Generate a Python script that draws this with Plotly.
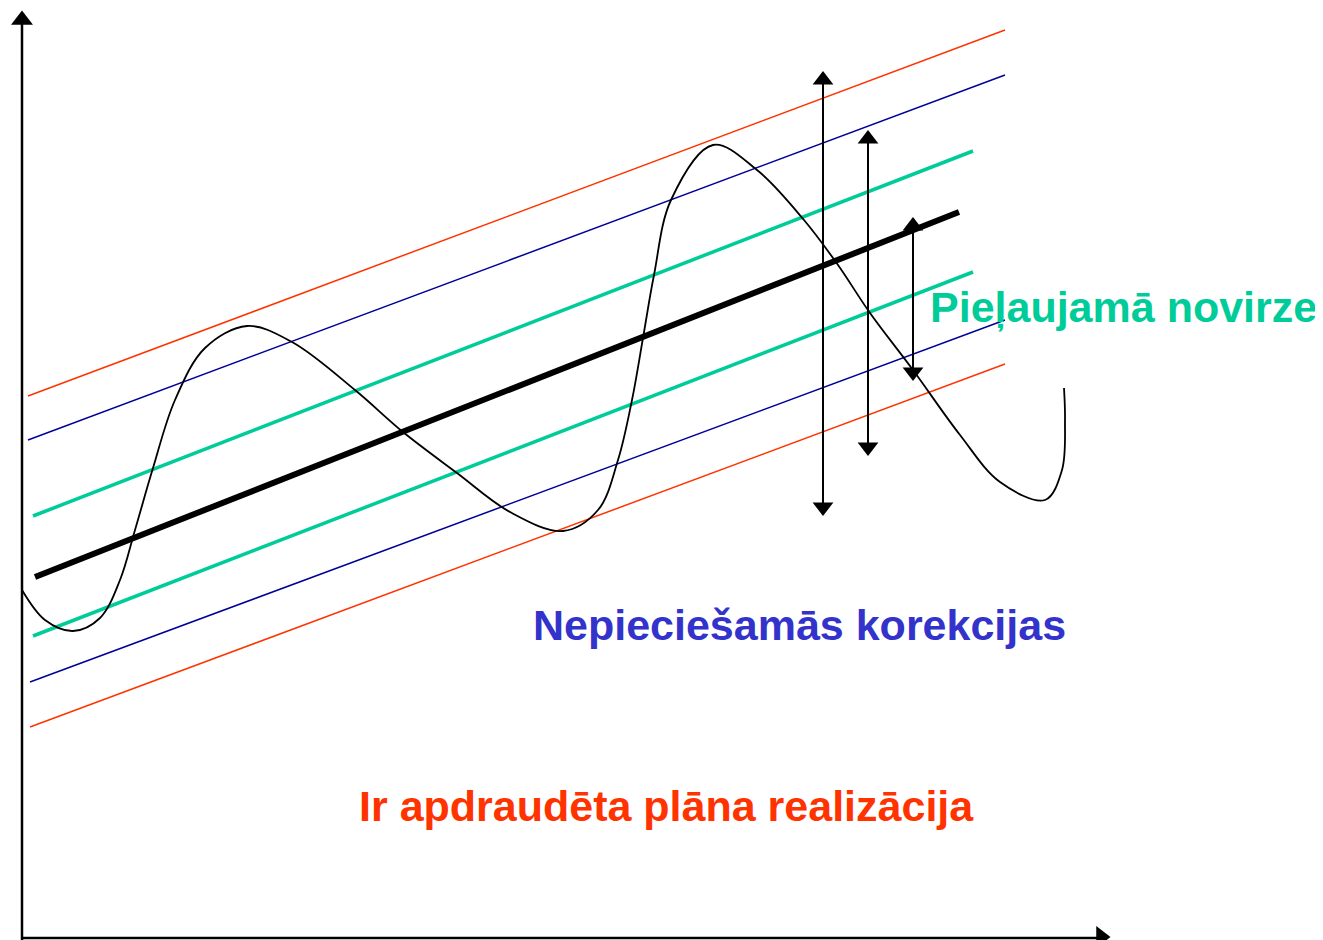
import plotly.graph_objects as go

# Diagram in a plain coordinate space: x = time, y = value (0..940 upward)
band_x = [28, 1005]
red_top = [544, 910]
blue_top = [500, 865]
green_x = [33, 973]
green_top = [424, 789]
green_bottom = [304, 668]
plan_x = [35, 959]
plan_y = [363, 728]
blue_bottom_x = [30, 1005]
blue_bottom = [258, 620]
red_bottom_x = [30, 1005]
red_bottom = [213, 576]

# actual (wavy) realization curve
wave_x = [22, 45, 73, 100, 120, 135, 153, 175, 205, 247, 292, 355, 403, 457, 510,
          563, 598, 618, 632, 643, 654, 671, 713, 757, 804, 838, 870, 913, 960,
          1000, 1045, 1062, 1065, 1064]
wave_y = [350, 320, 309, 322, 360, 410, 472, 540, 592, 614, 598, 550, 508, 467, 428,
          409, 430, 480, 540, 602, 665, 740, 795, 770, 720, 675, 627, 570, 505,
          458, 440, 470, 520, 552]

# double arrows: x, bottom, top
arrow_x = [823, 868, 913]
arrow_lo = [425, 485, 560]
arrow_hi = [868, 809, 722]

labels = ["Pieļaujamā novirze", "Nepieciešamās korekcijas", "Ir apdraudēta plāna realizācija"]
label_x = [1123, 799, 666]
label_y = [633, 315, 134]
label_col = ["#00CC99", "#3333CC", "#FF3300"]

RED, BLUE, GREEN = "#FF3300", "#000099", "#00CC99"

fig = go.Figure()

def seg(x, y, color, width):
    fig.add_trace(go.Scatter(x=x, y=y, mode="lines",
                             line=dict(color=color, width=width), hoverinfo="skip"))

seg(band_x, red_top, RED, 1.5)
seg(band_x, blue_top, BLUE, 1.5)
seg(green_x, green_top, GREEN, 3.5)
seg(plan_x, plan_y, "black", 6)
seg(green_x, green_bottom, GREEN, 3.5)
seg(blue_bottom_x, blue_bottom, BLUE, 1.5)
seg(red_bottom_x, red_bottom, RED, 1.5)

fig.add_trace(go.Scatter(x=wave_x, y=wave_y, mode="lines",
                         line=dict(color="black", width=1.8, shape="spline", smoothing=1.0),
                         hoverinfo="skip"))

# vertical double arrows
for x, lo, hi in zip(arrow_x, arrow_lo, arrow_hi):
    seg([x, x], [lo + 8, hi - 8], "black", 2)
    fig.add_trace(go.Scatter(x=[x, x], y=[hi - 8, lo + 8], mode="markers",
                             marker=dict(symbol=["triangle-up", "triangle-down"],
                                         size=18, color="black"),
                             hoverinfo="skip"))

# axes with arrowheads
seg([22, 22], [0, 918], "black", 2.5)
seg([22, 1098], [2, 2], "black", 2.5)
fig.add_trace(go.Scatter(x=[22, 1101], y=[920, 3], mode="markers",
                         marker=dict(symbol=["triangle-up", "triangle-right"],
                                     size=19, color="black"),
                         hoverinfo="skip"))

for t, x, y, c in zip(labels, label_x, label_y, label_col):
    fig.add_annotation(x=x, y=y, text="<b>%s</b>" % t, showarrow=False,
                       font=dict(family="Liberation Sans, Arial", size=43, color=c))

# the page adds an 8px body margin, so the figure covers 8..1323 x 8..940
fig.update_layout(
    width=1315, height=932, showlegend=False,
    margin=dict(l=0, r=0, t=0, b=0),
    paper_bgcolor="white", plot_bgcolor="white",
    xaxis=dict(range=[8, 1323], visible=False, fixedrange=True),
    yaxis=dict(range=[0, 932], visible=False, fixedrange=True),
)

fig.write_html("out.html")
